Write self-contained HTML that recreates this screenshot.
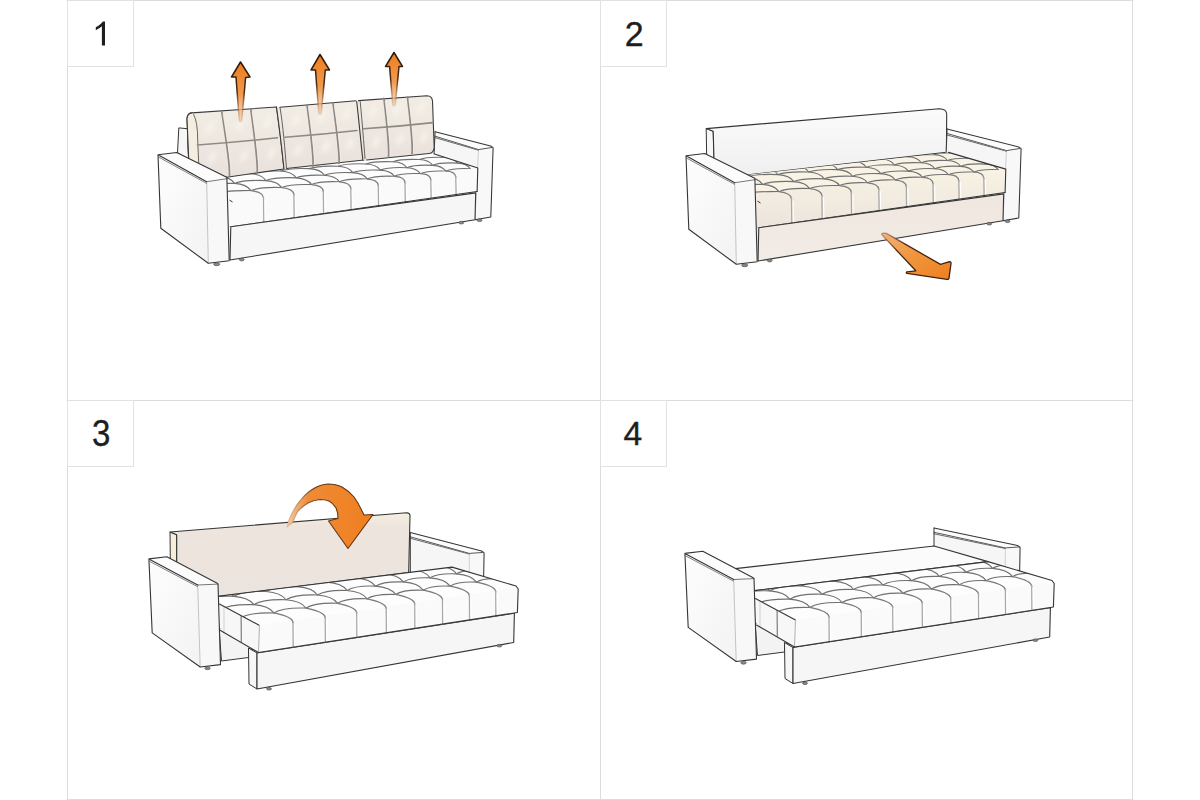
<!DOCTYPE html>
<html><head><meta charset="utf-8"><style>
html,body{margin:0;padding:0;background:#fff;}
.wrap{position:relative;width:1200px;height:800px;overflow:hidden;}
svg{position:absolute;left:0;top:0;}
.num{position:absolute;width:66px;height:66px;font-family:"Liberation Sans",sans-serif;font-size:33px;color:#222;text-align:center;line-height:66px;}
</style></head><body><div class="wrap">
<svg width="1200" height="800" viewBox="0 0 1200 800">
<defs>
<linearGradient id="armside" x1="0" y1="0" x2="1" y2="1"><stop offset="0" stop-color="#fdfdfd"/><stop offset="1" stop-color="#f3f3f3"/></linearGradient>
<linearGradient id="cush" x1="0" y1="0" x2="0" y2="1"><stop offset="0" stop-color="#f2ede4"/><stop offset="0.6" stop-color="#ede6e0"/><stop offset="1" stop-color="#e9e1dc"/></linearGradient>
<filter id="blur2" x="-50%" y="-50%" width="200%" height="200%"><feGaussianBlur stdDeviation="2.2"/></filter>
<linearGradient id="ag" x1="0" y1="0" x2="0" y2="1"><stop offset="0" stop-color="#ee7d1c"/><stop offset="0.55" stop-color="#f19a4e"/><stop offset="1" stop-color="#f4c69a" stop-opacity="0.6"/></linearGradient>
<linearGradient id="ags" x1="0" y1="0" x2="0" y2="1"><stop offset="0" stop-color="#2a160a"/><stop offset="0.5" stop-color="#4a2a12"/><stop offset="1" stop-color="#c08050" stop-opacity="0.2"/></linearGradient>
<linearGradient id="panel" x1="0" y1="0" x2="0" y2="1"><stop offset="0" stop-color="#fbfbfb"/><stop offset="1" stop-color="#efeff0"/></linearGradient>
<linearGradient id="creamf" x1="0" y1="0" x2="0" y2="1"><stop offset="0" stop-color="#f8f3e4"/><stop offset="1" stop-color="#ece4dd"/></linearGradient>
<linearGradient id="creamb" x1="0" y1="0" x2="0" y2="1"><stop offset="0" stop-color="#efe6df"/><stop offset="1" stop-color="#f2ece6"/></linearGradient>
<linearGradient id="upright" x1="0" y1="0" x2="0" y2="1"><stop offset="0" stop-color="#f5f0e2"/><stop offset="0.15" stop-color="#ede5dd"/><stop offset="1" stop-color="#ebe3dd"/></linearGradient>
<linearGradient id="carrow" x1="0" y1="0" x2="1" y2="0"><stop offset="0" stop-color="#f4c9a2"/><stop offset="0.25" stop-color="#f08a35"/><stop offset="1" stop-color="#ef7f1f"/></linearGradient>
<linearGradient id="carrows" x1="0" y1="0" x2="1" y2="0"><stop offset="0" stop-color="#c89870" stop-opacity="0.4"/><stop offset="0.3" stop-color="#6a3a14"/><stop offset="1" stop-color="#5a3010"/></linearGradient>
<linearGradient id="sarrow" x1="0" y1="0" x2="1" y2="1"><stop offset="0" stop-color="#f2b27a"/><stop offset="0.45" stop-color="#f0963f"/><stop offset="1" stop-color="#ef7f1f"/></linearGradient>
<linearGradient id="sarrows" x1="0" y1="0" x2="1" y2="1"><stop offset="0" stop-color="#9a7050" stop-opacity="0.6"/><stop offset="0.3" stop-color="#4a2810"/><stop offset="1" stop-color="#3a200c"/></linearGradient>
</defs>
<rect width="1200" height="800" fill="#ffffff"/>
<line x1="67.50" y1="0.00" x2="67.50" y2="800.00" stroke="#dcdcdc" stroke-width="1" stroke-linecap="round" stroke-linecap="butt"/>
<line x1="600.50" y1="0.00" x2="600.50" y2="800.00" stroke="#dcdcdc" stroke-width="1" stroke-linecap="round" stroke-linecap="butt"/>
<line x1="1132.50" y1="0.00" x2="1132.50" y2="800.00" stroke="#dcdcdc" stroke-width="1" stroke-linecap="round" stroke-linecap="butt"/>
<line x1="67.00" y1="0.50" x2="1133.00" y2="0.50" stroke="#dcdcdc" stroke-width="1" stroke-linecap="round" stroke-linecap="butt"/>
<line x1="67.00" y1="400.50" x2="1133.00" y2="400.50" stroke="#dcdcdc" stroke-width="1" stroke-linecap="round" stroke-linecap="butt"/>
<line x1="67.00" y1="799.50" x2="1133.00" y2="799.50" stroke="#dcdcdc" stroke-width="1" stroke-linecap="round" stroke-linecap="butt"/>
<rect x="67.5" y="0.5" width="66" height="66" fill="none" stroke="#e2e2e2" stroke-width="1"/>
<rect x="600.5" y="0.5" width="66" height="66" fill="none" stroke="#e2e2e2" stroke-width="1"/>
<rect x="67.5" y="400.5" width="66" height="66" fill="none" stroke="#e2e2e2" stroke-width="1"/>
<rect x="600.5" y="400.5" width="66" height="66" fill="none" stroke="#e2e2e2" stroke-width="1"/>
<polygon points="178.80,127.90 187.50,128.70 188.50,160.00 177.50,152.60" fill="#f6f6f6" stroke="#353535" stroke-width="1.0" stroke-linejoin="round" />
<polygon points="435.10,136.20 478.50,149.60 475.00,219.70 433.60,153.00" fill="#f6f6f6" stroke="none" stroke-width="1" stroke-linejoin="round" />
<polygon points="435.10,131.70 492.60,146.50 478.50,149.60 435.10,136.20" fill="#fcfcfc" stroke="none" stroke-width="1" stroke-linejoin="round" />
<polygon points="478.50,149.60 492.60,146.50 490.80,217.00 475.00,219.70" fill="#f8f8f8" stroke="none" stroke-width="1" stroke-linejoin="round" />
<line x1="478.50" y1="149.60" x2="475.00" y2="219.70" stroke="#cfcfcf" stroke-width="1.0" stroke-linecap="round" />
<polyline points="435.10,131.70 490.60,145.90 493.10,148.00 490.80,217.00 475.00,219.70" fill="none" stroke="#353535" stroke-width="1.05" stroke-linejoin="round" stroke-linecap="round" />
<polyline points="435.10,136.20 478.50,149.60 492.90,147.30" fill="none" stroke="#585858" stroke-width="1.0" stroke-linejoin="round" stroke-linecap="round" />
<line x1="435.10" y1="137.70" x2="478.50" y2="150.20" stroke="#6a6a6a" stroke-width="1.0" stroke-linecap="round" />
<line x1="435.10" y1="131.70" x2="434.10" y2="153.00" stroke="#353535" stroke-width="1.0" stroke-linecap="round" />
<ellipse cx="479.5" cy="220.3" rx="2.5" ry="1.3" fill="#8a8a8a" stroke="#444" stroke-width="0.6"/>
<polygon points="162.00,181.30 433.70,153.70 477.80,168.10 229.20,190.30 189.20,190.30" fill="#fdfdfd" stroke="none" stroke-width="1" stroke-linejoin="round" />
<polygon points="229.20,190.30 477.80,168.10 477.10,191.50 229.80,227.00 226.80,227.00 226.20,190.30" fill="#fafafa" stroke="none" stroke-width="1" stroke-linejoin="round" />
<clipPath id="c1"><polygon points="162.00,181.30 433.70,153.70 478.80,168.10 229.20,193.30 169.20,190.30"/></clipPath>
<g clip-path="url(#c1)">
<path d="M212.15,194.56 Q223.01,189.87 250.95,190.67 Q259.57,186.78 281.74,187.58 Q290.08,183.80 311.53,184.60 Q319.33,181.01 339.38,181.81 Q347.18,178.22 367.24,179.02 Q374.81,175.51 394.29,176.31 Q401.61,172.89 420.42,173.69 Q427.51,170.35 445.75,171.15 Q452.61,167.90 470.26,168.70 " fill="none" stroke="#707070" stroke-width="1.15" stroke-linejoin="round" stroke-linecap="round" />
<path d="M195.09,187.03 Q206.13,182.63 234.53,183.43 Q243.30,179.77 265.85,180.57 Q274.33,177.01 296.13,177.81 Q304.06,174.42 324.45,175.22 Q332.38,171.84 352.78,172.64 Q360.48,169.33 380.28,170.13 Q387.72,166.90 406.85,167.70 Q414.06,164.55 432.60,165.35 Q439.58,162.28 457.53,163.08 " fill="none" stroke="#707070" stroke-width="1.15" stroke-linejoin="round" stroke-linecap="round" />
<path d="M178.02,179.50 Q189.25,175.39 218.12,176.19 Q227.03,172.76 249.95,173.56 Q258.57,170.22 280.73,171.02 Q288.79,167.84 309.52,168.64 Q317.59,165.46 338.32,166.26 Q346.14,163.15 366.27,163.95 Q373.84,160.92 393.28,161.72 Q400.61,158.75 419.46,159.55 Q426.55,156.66 444.80,157.46 " fill="none" stroke="#707070" stroke-width="1.15" stroke-linejoin="round" stroke-linecap="round" />
<path d="M178.02,179.50 Q190.82,180.41 195.09,187.03 Q207.88,187.93 212.15,194.56 " fill="none" stroke="#707070" stroke-width="1.15" stroke-linejoin="round" stroke-linecap="round" />
<path d="M218.12,176.19 Q230.43,177.04 234.53,183.43 Q246.85,184.28 250.95,190.67 " fill="none" stroke="#707070" stroke-width="1.15" stroke-linejoin="round" stroke-linecap="round" />
<path d="M249.95,173.56 Q261.87,174.36 265.85,180.57 Q277.77,181.37 281.74,187.58 " fill="none" stroke="#707070" stroke-width="1.15" stroke-linejoin="round" stroke-linecap="round" />
<path d="M280.73,171.02 Q292.28,171.77 296.13,177.81 Q307.68,178.57 311.53,184.60 " fill="none" stroke="#707070" stroke-width="1.15" stroke-linejoin="round" stroke-linecap="round" />
<path d="M309.52,168.64 Q320.72,169.35 324.45,175.22 Q335.65,175.94 339.38,181.81 " fill="none" stroke="#707070" stroke-width="1.15" stroke-linejoin="round" stroke-linecap="round" />
<path d="M338.32,166.26 Q349.16,166.93 352.78,172.64 Q363.63,173.31 367.24,179.02 " fill="none" stroke="#707070" stroke-width="1.15" stroke-linejoin="round" stroke-linecap="round" />
<path d="M366.27,163.95 Q376.78,164.58 380.28,170.13 Q390.79,170.76 394.29,176.31 " fill="none" stroke="#707070" stroke-width="1.15" stroke-linejoin="round" stroke-linecap="round" />
<path d="M393.28,161.72 Q403.46,162.31 406.85,167.70 Q417.03,168.30 420.42,173.69 " fill="none" stroke="#707070" stroke-width="1.15" stroke-linejoin="round" stroke-linecap="round" />
<path d="M419.46,159.55 Q429.32,160.11 432.60,165.35 Q442.46,165.91 445.75,171.15 " fill="none" stroke="#707070" stroke-width="1.15" stroke-linejoin="round" stroke-linecap="round" />
<path d="M444.80,157.46 Q454.35,157.98 457.53,163.08 Q467.08,163.60 470.26,168.70 " fill="none" stroke="#707070" stroke-width="1.15" stroke-linejoin="round" stroke-linecap="round" />
</g>
<path d="M250.95,190.67 Q263.00,191.95 263.50,197.95" fill="none" stroke="#7c7c7c" stroke-width="1.25" stroke-linejoin="round" stroke-linecap="round" />
<path d="M263.50,197.45 L263.80,222.20" fill="none" stroke="#a8a8a8" stroke-width="1.3" stroke-linejoin="round" stroke-linecap="round" />
<line x1="265.10" y1="199.95" x2="265.40" y2="221.20" stroke="#ffffff" stroke-width="1.1" stroke-linecap="round" />
<path d="M281.74,187.58 Q293.40,188.66 293.90,194.66" fill="none" stroke="#7c7c7c" stroke-width="1.25" stroke-linejoin="round" stroke-linecap="round" />
<path d="M293.90,194.16 L294.20,217.84" fill="none" stroke="#a8a8a8" stroke-width="1.3" stroke-linejoin="round" stroke-linecap="round" />
<line x1="295.50" y1="196.66" x2="295.80" y2="216.84" stroke="#ffffff" stroke-width="1.1" stroke-linecap="round" />
<path d="M311.53,184.60 Q322.80,185.49 323.30,191.49" fill="none" stroke="#7c7c7c" stroke-width="1.25" stroke-linejoin="round" stroke-linecap="round" />
<path d="M323.30,190.99 L323.60,213.62" fill="none" stroke="#a8a8a8" stroke-width="1.3" stroke-linejoin="round" stroke-linecap="round" />
<line x1="324.90" y1="193.49" x2="325.20" y2="212.62" stroke="#ffffff" stroke-width="1.1" stroke-linecap="round" />
<path d="M339.38,181.81 Q350.30,182.52 350.80,188.52" fill="none" stroke="#7c7c7c" stroke-width="1.25" stroke-linejoin="round" stroke-linecap="round" />
<path d="M350.80,188.02 L351.10,209.67" fill="none" stroke="#a8a8a8" stroke-width="1.3" stroke-linejoin="round" stroke-linecap="round" />
<line x1="352.40" y1="190.52" x2="352.70" y2="208.67" stroke="#ffffff" stroke-width="1.1" stroke-linecap="round" />
<path d="M367.24,179.02 Q377.80,179.55 378.30,185.55" fill="none" stroke="#7c7c7c" stroke-width="1.25" stroke-linejoin="round" stroke-linecap="round" />
<path d="M378.30,185.05 L378.60,205.73" fill="none" stroke="#a8a8a8" stroke-width="1.3" stroke-linejoin="round" stroke-linecap="round" />
<line x1="379.90" y1="187.55" x2="380.20" y2="204.73" stroke="#ffffff" stroke-width="1.1" stroke-linecap="round" />
<path d="M394.29,176.31 Q404.50,176.66 405.00,182.66" fill="none" stroke="#7c7c7c" stroke-width="1.25" stroke-linejoin="round" stroke-linecap="round" />
<path d="M405.00,182.16 L405.30,201.89" fill="none" stroke="#a8a8a8" stroke-width="1.3" stroke-linejoin="round" stroke-linecap="round" />
<line x1="406.60" y1="184.66" x2="406.90" y2="200.89" stroke="#ffffff" stroke-width="1.1" stroke-linecap="round" />
<path d="M420.42,173.69 Q430.30,173.88 430.80,179.88" fill="none" stroke="#7c7c7c" stroke-width="1.25" stroke-linejoin="round" stroke-linecap="round" />
<path d="M430.80,179.38 L431.10,198.19" fill="none" stroke="#a8a8a8" stroke-width="1.3" stroke-linejoin="round" stroke-linecap="round" />
<line x1="432.40" y1="181.88" x2="432.70" y2="197.19" stroke="#ffffff" stroke-width="1.1" stroke-linecap="round" />
<path d="M445.75,171.15 Q455.30,171.18 455.80,177.18" fill="none" stroke="#7c7c7c" stroke-width="1.25" stroke-linejoin="round" stroke-linecap="round" />
<path d="M455.80,176.68 L456.10,194.60" fill="none" stroke="#a8a8a8" stroke-width="1.3" stroke-linejoin="round" stroke-linecap="round" />
<line x1="457.40" y1="179.18" x2="457.70" y2="193.60" stroke="#ffffff" stroke-width="1.1" stroke-linecap="round" />
<polyline points="229.80,200.30 232.20,201.80" fill="none" stroke="#353535" stroke-width="1.0" stroke-linejoin="round" stroke-linecap="round" />
<polyline points="433.70,153.70 477.80,168.10 477.10,191.50" fill="none" stroke="#353535" stroke-width="1.1" stroke-linejoin="round" stroke-linecap="round" />
<polyline points="229.80,227.00 477.10,191.50" fill="none" stroke="#353535" stroke-width="1.1" stroke-linejoin="round" stroke-linecap="round" />
<polygon points="227.00,227.00 475.70,192.90 475.00,219.70 227.00,260.50" fill="#f6f6f6" stroke="none" stroke-width="1" stroke-linejoin="round" />
<polygon points="230.80,226.70 475.70,192.90 475.00,219.70 230.00,260.00" fill="none" stroke="#353535" stroke-width="1.1" stroke-linejoin="round" />
<ellipse cx="241.7" cy="259.6" rx="2.5" ry="1.3" fill="#8a8a8a" stroke="#444" stroke-width="0.6"/>
<ellipse cx="461.3" cy="222.7" rx="2.5" ry="1.3" fill="#8a8a8a" stroke="#444" stroke-width="0.6"/>
<path d="M189.5,177 L187,119 Q187.2,113.3 192,112.9 L276.5,107 Q281,138 284,169 L226.7,177.3 Z" fill="url(#cush)" stroke="#3a3a3a" stroke-width="1.1" stroke-linejoin="round" stroke-linecap="round" />
<path d="M187,119 Q187.2,113.3 192,112.9 Q197,116 197.7,132 L199.3,177 L189.5,177 Z" fill="#f3eee0" stroke="none" stroke-width="1" stroke-linejoin="round" stroke-linecap="round" />
<path d="M193.7,114.6 Q197.7,122 197.7,140 L199.2,175" fill="none" stroke="#6a6660" stroke-width="1.0" stroke-linejoin="round" stroke-linecap="round" />
<path d="M189.5,177 L187,119 Q187.2,113.3 192,112.9" fill="none" stroke="#3a3a3a" stroke-width="1.1" stroke-linejoin="round" stroke-linecap="round" />
<path d="M276.5,107.2 L356,100.7 Q361,130 364,160 L284,169.2 C282,150 279,125 276.5,107.2 Z" fill="url(#cush)" stroke="none" stroke-width="1" stroke-linejoin="round" stroke-linecap="round" />
<path d="M280,107.3 L356,100.7 M364,160 L286.5,168.5" fill="none" stroke="#3a3a3a" stroke-width="1.1" stroke-linejoin="round" stroke-linecap="round" />
<path d="M356.7,100.8 L427,95.8 Q432,96 432.5,101 L434.2,147 Q434,153 429,153.5 L362.9,160.3 C361,145 359,120 356.7,100.8 Z" fill="url(#cush)" stroke="none" stroke-width="1" stroke-linejoin="round" stroke-linecap="round" />
<path d="M358.5,100.6 L427,95.8 Q432,96 432.5,101 L434.2,147 Q434,153 429,153.5 L366.5,160" fill="none" stroke="#3a3a3a" stroke-width="1.1" stroke-linejoin="round" stroke-linecap="round" />
<g filter="url(#blur2)" opacity="0.55">
<ellipse cx="210" cy="128" rx="3.2" ry="7" fill="#fbf8ee" transform="rotate(28 210 128)"/>
<ellipse cx="240" cy="125" rx="3.2" ry="7" fill="#fbf8ee" transform="rotate(28 240 125)"/>
<ellipse cx="268" cy="122" rx="3.2" ry="7" fill="#fbf8ee" transform="rotate(28 268 122)"/>
<ellipse cx="212" cy="158" rx="3.2" ry="7" fill="#fbf8ee" transform="rotate(28 212 158)"/>
<ellipse cx="244" cy="156" rx="3.2" ry="7" fill="#fbf8ee" transform="rotate(28 244 156)"/>
<ellipse cx="272" cy="153" rx="3.2" ry="7" fill="#fbf8ee" transform="rotate(28 272 153)"/>
<ellipse cx="296" cy="120" rx="3.2" ry="7" fill="#fbf8ee" transform="rotate(28 296 120)"/>
<ellipse cx="322" cy="117" rx="3.2" ry="7" fill="#fbf8ee" transform="rotate(28 322 117)"/>
<ellipse cx="347" cy="114" rx="3.2" ry="7" fill="#fbf8ee" transform="rotate(28 347 114)"/>
<ellipse cx="298" cy="150" rx="3.2" ry="7" fill="#fbf8ee" transform="rotate(28 298 150)"/>
<ellipse cx="326" cy="147" rx="3.2" ry="7" fill="#fbf8ee" transform="rotate(28 326 147)"/>
<ellipse cx="350" cy="144" rx="3.2" ry="7" fill="#fbf8ee" transform="rotate(28 350 144)"/>
<ellipse cx="373" cy="112" rx="3.2" ry="7" fill="#fbf8ee" transform="rotate(28 373 112)"/>
<ellipse cx="397" cy="110" rx="3.2" ry="7" fill="#fbf8ee" transform="rotate(28 397 110)"/>
<ellipse cx="421" cy="108" rx="3.2" ry="7" fill="#fbf8ee" transform="rotate(28 421 108)"/>
<ellipse cx="376" cy="142" rx="3.2" ry="7" fill="#fbf8ee" transform="rotate(28 376 142)"/>
<ellipse cx="400" cy="139" rx="3.2" ry="7" fill="#fbf8ee" transform="rotate(28 400 139)"/>
<ellipse cx="424" cy="137" rx="3.2" ry="7" fill="#fbf8ee" transform="rotate(28 424 137)"/>
</g>
<path d="M221.70,111.40 C226.21,140.25 230.33,165.88 229.50,175.50" fill="none" stroke="#8d8984" stroke-width="1.7" stroke-linejoin="round" stroke-linecap="round" />
<path d="M223.10,114.40 C227.61,140.25 231.73,165.88 230.90,173.50" fill="none" stroke="#f7f3ec" stroke-width="0.7" stroke-linejoin="round" stroke-linecap="round" opacity="0.8"/>
<path d="M250.80,109.40 C254.68,137.80 258.24,163.03 257.20,172.50" fill="none" stroke="#8d8984" stroke-width="1.7" stroke-linejoin="round" stroke-linecap="round" />
<path d="M252.20,112.40 C256.08,137.80 259.64,163.03 258.60,170.50" fill="none" stroke="#f7f3ec" stroke-width="0.7" stroke-linejoin="round" stroke-linecap="round" opacity="0.8"/>
<path d="M307.00,104.80 C310.70,132.79 314.10,157.67 313.00,167.00" fill="none" stroke="#8d8984" stroke-width="1.7" stroke-linejoin="round" stroke-linecap="round" />
<path d="M308.40,107.80 C312.10,132.79 315.50,157.67 314.40,165.00" fill="none" stroke="#f7f3ec" stroke-width="0.7" stroke-linejoin="round" stroke-linecap="round" opacity="0.8"/>
<path d="M333.00,103.20 C336.70,130.34 340.10,154.45 339.00,163.50" fill="none" stroke="#8d8984" stroke-width="1.7" stroke-linejoin="round" stroke-linecap="round" />
<path d="M334.40,106.20 C338.10,130.34 341.50,154.45 340.40,161.50" fill="none" stroke="#f7f3ec" stroke-width="0.7" stroke-linejoin="round" stroke-linecap="round" opacity="0.8"/>
<path d="M383.90,98.30 C386.97,124.72 389.81,148.19 388.50,157.00" fill="none" stroke="#8d8984" stroke-width="1.7" stroke-linejoin="round" stroke-linecap="round" />
<path d="M385.30,101.30 C388.37,124.72 391.21,148.19 389.90,155.00" fill="none" stroke="#f7f3ec" stroke-width="0.7" stroke-linejoin="round" stroke-linecap="round" opacity="0.8"/>
<path d="M407.50,97.00 C410.52,122.42 413.32,145.03 412.00,153.50" fill="none" stroke="#8d8984" stroke-width="1.7" stroke-linejoin="round" stroke-linecap="round" />
<path d="M408.90,100.00 C411.92,122.42 414.72,145.03 413.40,151.50" fill="none" stroke="#f7f3ec" stroke-width="0.7" stroke-linejoin="round" stroke-linecap="round" opacity="0.8"/>
<path d="M197.50,145.00 Q237.50,142.20 277.50,137.80" fill="none" stroke="#8d8984" stroke-width="1.6" stroke-linejoin="round" stroke-linecap="round" />
<path d="M285.00,137.20 Q321.00,134.65 357.00,130.50" fill="none" stroke="#8d8984" stroke-width="1.6" stroke-linejoin="round" stroke-linecap="round" />
<path d="M363.80,128.80 Q398.35,126.50 432.90,122.60" fill="none" stroke="#8d8984" stroke-width="1.6" stroke-linejoin="round" stroke-linecap="round" />
<path d="M276.5,107 C279,125 282,150 284,169" fill="none" stroke="#3a3a3a" stroke-width="1.1" stroke-linejoin="round" stroke-linecap="round" />
<path d="M280,107.5 C283,125 285,150 286.5,168.5" fill="none" stroke="#55524e" stroke-width="0.9" stroke-linejoin="round" stroke-linecap="round" />
<path d="M356.7,101.6 C359,120 361,145 362.9,160.2" fill="none" stroke="#3a3a3a" stroke-width="1.1" stroke-linejoin="round" stroke-linecap="round" />
<path d="M360.2,101.6 C362,120 364,145 365,158.5" fill="none" stroke="#55524e" stroke-width="0.9" stroke-linejoin="round" stroke-linecap="round" />
<polygon points="158.00,154.70 206.70,181.70 208.30,263.30 160.80,228.30" fill="url(#armside)" stroke="none" stroke-width="1" stroke-linejoin="round" />
<polygon points="206.70,181.70 226.90,178.70 229.20,260.80 208.30,263.30" fill="#f8f8f8" stroke="none" stroke-width="1" stroke-linejoin="round" />
<polygon points="158.00,154.70 176.70,152.50 226.70,177.30 226.90,178.70 206.70,181.70" fill="#fcfcfc" stroke="none" stroke-width="1" stroke-linejoin="round" />
<line x1="206.70" y1="181.70" x2="208.30" y2="263.30" stroke="#c4c4c4" stroke-width="1.0" stroke-linecap="round" />
<polyline points="206.70,181.70 226.90,178.70" fill="none" stroke="#6a6a6a" stroke-width="0.9" stroke-linejoin="round" stroke-linecap="round" />
<polyline points="206.70,181.70 158.00,154.70 176.70,152.50 226.70,177.30 226.90,178.70 229.20,260.80 208.30,263.30 160.80,228.30 158.00,154.70" fill="none" stroke="#353535" stroke-width="1.1" stroke-linejoin="round" stroke-linecap="round" />
<line x1="158.40" y1="157.00" x2="206.50" y2="183.30" stroke="#6e6e6e" stroke-width="0.85" stroke-linecap="round" />
<ellipse cx="216.7" cy="264.2" rx="3.0" ry="1.5" fill="#8a8a8a" stroke="#444" stroke-width="0.6"/>
<path d="M240.50,62.00 L250.00,77.00 L245.60,77.50 L241.70,121.50 L239.30,121.50 L236.00,77.00 L231.50,77.00 Z" fill="url(#ag)" stroke="url(#ags)" stroke-width="1.5" stroke-linejoin="round" stroke-linecap="round" />
<path d="M320.00,54.50 L329.50,70.00 L325.30,70.00 L321.20,114.00 L318.80,114.00 L315.50,70.00 L311.00,70.00 Z" fill="url(#ag)" stroke="url(#ags)" stroke-width="1.5" stroke-linejoin="round" stroke-linecap="round" />
<path d="M394.00,52.50 L402.50,66.50 L399.00,66.50 L395.20,105.50 L392.80,105.50 L389.60,66.50 L385.50,66.50 Z" fill="url(#ag)" stroke="url(#ags)" stroke-width="1.5" stroke-linejoin="round" stroke-linecap="round" />
<polygon points="706.20,128.60 713.20,131.20 714.50,179.00 707.00,176.00" fill="#f7f7f7" stroke="#353535" stroke-width="1.0" stroke-linejoin="round" />
<path d="M706.2,128.6 L939.3,108.7 Q946.5,109 946.7,114 L946.4,152.4 L714.5,178.6 L713.2,131.2 Z" fill="url(#panel)" stroke="#353535" stroke-width="1.1" stroke-linejoin="round" stroke-linecap="round" />
<polygon points="947.10,133.50 1006.50,150.60 1003.00,220.70 945.60,154.00" fill="#f6f6f6" stroke="none" stroke-width="1" stroke-linejoin="round" />
<polygon points="947.10,129.00 1020.60,147.50 1006.50,150.60 947.10,133.50" fill="#fcfcfc" stroke="none" stroke-width="1" stroke-linejoin="round" />
<polygon points="1006.50,150.60 1020.60,147.50 1018.80,218.00 1003.00,220.70" fill="#f8f8f8" stroke="none" stroke-width="1" stroke-linejoin="round" />
<line x1="1006.50" y1="150.60" x2="1003.00" y2="220.70" stroke="#cfcfcf" stroke-width="1.0" stroke-linecap="round" />
<polyline points="947.10,129.00 1018.60,146.90 1021.10,149.00 1018.80,218.00 1003.00,220.70" fill="none" stroke="#353535" stroke-width="1.05" stroke-linejoin="round" stroke-linecap="round" />
<polyline points="947.10,133.50 1006.50,150.60 1020.90,148.30" fill="none" stroke="#585858" stroke-width="1.0" stroke-linejoin="round" stroke-linecap="round" />
<line x1="947.10" y1="135.00" x2="1006.50" y2="151.20" stroke="#6a6a6a" stroke-width="1.0" stroke-linecap="round" />
<line x1="947.10" y1="129.00" x2="946.10" y2="154.00" stroke="#353535" stroke-width="1.0" stroke-linecap="round" />
<ellipse cx="1007.5" cy="221.3" rx="2.5" ry="1.3" fill="#8a8a8a" stroke="#444" stroke-width="0.6"/>
<polygon points="690.00,181.30 948.50,152.40 1005.80,169.10 757.20,191.30 717.20,191.30" fill="#f8f3e4" stroke="none" stroke-width="1" stroke-linejoin="round" />
<polygon points="757.20,191.30 1005.80,169.10 1005.10,192.50 757.80,228.00 754.80,228.00 754.20,191.30" fill="url(#creamf)" stroke="none" stroke-width="1" stroke-linejoin="round" />
<clipPath id="c2"><polygon points="690.00,181.30 948.50,152.40 1006.80,169.10 757.20,194.30 697.20,191.30"/></clipPath>
<g clip-path="url(#c2)">
<path d="M740.15,195.56 Q751.01,190.87 778.95,191.67 Q787.57,187.78 809.74,188.58 Q818.08,184.80 839.53,185.60 Q847.33,182.01 867.38,182.81 Q875.18,179.22 895.24,180.02 Q902.81,176.51 922.29,177.31 Q929.61,173.89 948.42,174.69 Q955.51,171.35 973.75,172.15 Q980.61,168.90 998.26,169.70 " fill="none" stroke="#707070" stroke-width="1.15" stroke-linejoin="round" stroke-linecap="round" />
<path d="M723.09,188.03 Q734.13,183.63 762.53,184.43 Q771.30,180.77 793.85,181.57 Q802.33,178.01 824.13,178.81 Q832.06,175.42 852.45,176.22 Q860.38,172.84 880.78,173.64 Q888.48,170.33 908.28,171.13 Q915.72,167.90 934.85,168.70 Q942.06,165.55 960.60,166.35 Q967.58,163.28 985.53,164.08 " fill="none" stroke="#707070" stroke-width="1.15" stroke-linejoin="round" stroke-linecap="round" />
<path d="M706.02,180.50 Q717.25,176.39 746.12,177.19 Q755.03,173.76 777.95,174.56 Q786.57,171.22 808.73,172.02 Q816.79,168.84 837.52,169.64 Q845.59,166.46 866.32,167.26 Q874.14,164.15 894.27,164.95 Q901.84,161.92 921.28,162.72 Q928.61,159.75 947.46,160.55 Q954.55,157.66 972.80,158.46 " fill="none" stroke="#707070" stroke-width="1.15" stroke-linejoin="round" stroke-linecap="round" />
<path d="M688.96,172.97 Q700.37,169.15 729.71,169.95 Q738.76,166.74 762.05,167.54 Q770.81,164.42 793.34,165.22 Q801.53,162.25 822.60,163.05 Q830.79,160.08 851.86,160.88 Q859.81,157.97 880.26,158.77 Q887.95,155.93 907.72,156.73 Q915.16,153.95 934.32,154.75 Q941.52,152.04 960.06,152.84 " fill="none" stroke="#707070" stroke-width="1.15" stroke-linejoin="round" stroke-linecap="round" />
<path d="M688.96,172.97 Q701.76,173.88 706.02,180.50 Q718.82,181.41 723.09,188.03 Q735.88,188.93 740.15,195.56 " fill="none" stroke="#707070" stroke-width="1.15" stroke-linejoin="round" stroke-linecap="round" />
<path d="M729.71,169.95 Q742.02,170.79 746.12,177.19 Q758.43,178.04 762.53,184.43 Q774.85,185.28 778.95,191.67 " fill="none" stroke="#707070" stroke-width="1.15" stroke-linejoin="round" stroke-linecap="round" />
<path d="M762.05,167.54 Q773.98,168.35 777.95,174.56 Q789.87,175.36 793.85,181.57 Q805.77,182.37 809.74,188.58 " fill="none" stroke="#707070" stroke-width="1.15" stroke-linejoin="round" stroke-linecap="round" />
<path d="M793.34,165.22 Q804.88,165.98 808.73,172.02 Q820.28,172.77 824.13,178.81 Q835.68,179.57 839.53,185.60 " fill="none" stroke="#707070" stroke-width="1.15" stroke-linejoin="round" stroke-linecap="round" />
<path d="M822.60,163.05 Q833.79,163.77 837.52,169.64 Q848.72,170.35 852.45,176.22 Q863.65,176.94 867.38,182.81 " fill="none" stroke="#707070" stroke-width="1.15" stroke-linejoin="round" stroke-linecap="round" />
<path d="M851.86,160.88 Q862.70,161.55 866.32,167.26 Q877.16,167.93 880.78,173.64 Q891.63,174.31 895.24,180.02 " fill="none" stroke="#707070" stroke-width="1.15" stroke-linejoin="round" stroke-linecap="round" />
<path d="M880.26,158.77 Q890.77,159.40 894.27,164.95 Q904.78,165.58 908.28,171.13 Q918.79,171.76 922.29,177.31 " fill="none" stroke="#707070" stroke-width="1.15" stroke-linejoin="round" stroke-linecap="round" />
<path d="M907.72,156.73 Q917.89,157.33 921.28,162.72 Q931.46,163.31 934.85,168.70 Q945.03,169.30 948.42,174.69 " fill="none" stroke="#707070" stroke-width="1.15" stroke-linejoin="round" stroke-linecap="round" />
<path d="M934.32,154.75 Q944.17,155.31 947.46,160.55 Q957.32,161.11 960.60,166.35 Q970.46,166.91 973.75,172.15 " fill="none" stroke="#707070" stroke-width="1.15" stroke-linejoin="round" stroke-linecap="round" />
<path d="M960.06,152.84 Q969.61,153.37 972.80,158.46 Q982.35,158.98 985.53,164.08 Q995.08,164.60 998.26,169.70 " fill="none" stroke="#707070" stroke-width="1.15" stroke-linejoin="round" stroke-linecap="round" />
</g>
<path d="M778.95,191.67 Q791.00,192.95 791.50,198.95" fill="none" stroke="#7c7c7c" stroke-width="1.25" stroke-linejoin="round" stroke-linecap="round" />
<path d="M791.50,198.45 L791.80,223.20" fill="none" stroke="#a8a8a8" stroke-width="1.3" stroke-linejoin="round" stroke-linecap="round" />
<line x1="793.10" y1="200.95" x2="793.40" y2="222.20" stroke="#ffffff" stroke-width="1.1" stroke-linecap="round" />
<path d="M809.74,188.58 Q821.40,189.66 821.90,195.66" fill="none" stroke="#7c7c7c" stroke-width="1.25" stroke-linejoin="round" stroke-linecap="round" />
<path d="M821.90,195.16 L822.20,218.84" fill="none" stroke="#a8a8a8" stroke-width="1.3" stroke-linejoin="round" stroke-linecap="round" />
<line x1="823.50" y1="197.66" x2="823.80" y2="217.84" stroke="#ffffff" stroke-width="1.1" stroke-linecap="round" />
<path d="M839.53,185.60 Q850.80,186.49 851.30,192.49" fill="none" stroke="#7c7c7c" stroke-width="1.25" stroke-linejoin="round" stroke-linecap="round" />
<path d="M851.30,191.99 L851.60,214.62" fill="none" stroke="#a8a8a8" stroke-width="1.3" stroke-linejoin="round" stroke-linecap="round" />
<line x1="852.90" y1="194.49" x2="853.20" y2="213.62" stroke="#ffffff" stroke-width="1.1" stroke-linecap="round" />
<path d="M867.38,182.81 Q878.30,183.52 878.80,189.52" fill="none" stroke="#7c7c7c" stroke-width="1.25" stroke-linejoin="round" stroke-linecap="round" />
<path d="M878.80,189.02 L879.10,210.67" fill="none" stroke="#a8a8a8" stroke-width="1.3" stroke-linejoin="round" stroke-linecap="round" />
<line x1="880.40" y1="191.52" x2="880.70" y2="209.67" stroke="#ffffff" stroke-width="1.1" stroke-linecap="round" />
<path d="M895.24,180.02 Q905.80,180.55 906.30,186.55" fill="none" stroke="#7c7c7c" stroke-width="1.25" stroke-linejoin="round" stroke-linecap="round" />
<path d="M906.30,186.05 L906.60,206.73" fill="none" stroke="#a8a8a8" stroke-width="1.3" stroke-linejoin="round" stroke-linecap="round" />
<line x1="907.90" y1="188.55" x2="908.20" y2="205.73" stroke="#ffffff" stroke-width="1.1" stroke-linecap="round" />
<path d="M922.29,177.31 Q932.50,177.66 933.00,183.66" fill="none" stroke="#7c7c7c" stroke-width="1.25" stroke-linejoin="round" stroke-linecap="round" />
<path d="M933.00,183.16 L933.30,202.89" fill="none" stroke="#a8a8a8" stroke-width="1.3" stroke-linejoin="round" stroke-linecap="round" />
<line x1="934.60" y1="185.66" x2="934.90" y2="201.89" stroke="#ffffff" stroke-width="1.1" stroke-linecap="round" />
<path d="M948.42,174.69 Q958.30,174.88 958.80,180.88" fill="none" stroke="#7c7c7c" stroke-width="1.25" stroke-linejoin="round" stroke-linecap="round" />
<path d="M958.80,180.38 L959.10,199.19" fill="none" stroke="#a8a8a8" stroke-width="1.3" stroke-linejoin="round" stroke-linecap="round" />
<line x1="960.40" y1="182.88" x2="960.70" y2="198.19" stroke="#ffffff" stroke-width="1.1" stroke-linecap="round" />
<path d="M973.75,172.15 Q983.30,172.18 983.80,178.18" fill="none" stroke="#7c7c7c" stroke-width="1.25" stroke-linejoin="round" stroke-linecap="round" />
<path d="M983.80,177.68 L984.10,195.60" fill="none" stroke="#a8a8a8" stroke-width="1.3" stroke-linejoin="round" stroke-linecap="round" />
<line x1="985.40" y1="180.18" x2="985.70" y2="194.60" stroke="#ffffff" stroke-width="1.1" stroke-linecap="round" />
<polyline points="757.80,201.30 760.20,202.80" fill="none" stroke="#353535" stroke-width="1.0" stroke-linejoin="round" stroke-linecap="round" />
<polyline points="948.50,152.40 1005.80,169.10 1005.10,192.50" fill="none" stroke="#353535" stroke-width="1.1" stroke-linejoin="round" stroke-linecap="round" />
<polyline points="757.80,228.00 1005.10,192.50" fill="none" stroke="#353535" stroke-width="1.1" stroke-linejoin="round" stroke-linecap="round" />
<polygon points="755.00,228.00 1003.70,193.90 1003.00,220.70 755.00,261.50" fill="url(#creamb)" stroke="none" stroke-width="1" stroke-linejoin="round" />
<polygon points="758.80,227.70 1003.70,193.90 1003.00,220.70 758.00,261.00" fill="none" stroke="#353535" stroke-width="1.1" stroke-linejoin="round" />
<ellipse cx="769.7" cy="260.6" rx="2.5" ry="1.3" fill="#8a8a8a" stroke="#444" stroke-width="0.6"/>
<ellipse cx="989.3" cy="223.7" rx="2.5" ry="1.3" fill="#8a8a8a" stroke="#444" stroke-width="0.6"/>
<polygon points="686.00,155.70 734.70,182.70 736.30,264.30 688.80,229.30" fill="url(#armside)" stroke="none" stroke-width="1" stroke-linejoin="round" />
<polygon points="734.70,182.70 754.90,179.70 757.20,261.80 736.30,264.30" fill="#f8f8f8" stroke="none" stroke-width="1" stroke-linejoin="round" />
<polygon points="686.00,155.70 704.70,153.50 754.70,178.30 754.90,179.70 734.70,182.70" fill="#fcfcfc" stroke="none" stroke-width="1" stroke-linejoin="round" />
<line x1="734.70" y1="182.70" x2="736.30" y2="264.30" stroke="#c4c4c4" stroke-width="1.0" stroke-linecap="round" />
<polyline points="734.70,182.70 754.90,179.70" fill="none" stroke="#6a6a6a" stroke-width="0.9" stroke-linejoin="round" stroke-linecap="round" />
<polyline points="734.70,182.70 686.00,155.70 704.70,153.50 754.70,178.30 754.90,179.70 757.20,261.80 736.30,264.30 688.80,229.30 686.00,155.70" fill="none" stroke="#353535" stroke-width="1.1" stroke-linejoin="round" stroke-linecap="round" />
<line x1="686.40" y1="158.00" x2="734.50" y2="184.30" stroke="#6e6e6e" stroke-width="0.85" stroke-linecap="round" />
<ellipse cx="744.7" cy="265.2" rx="3.0" ry="1.5" fill="#8a8a8a" stroke="#444" stroke-width="0.6"/>
<path d="M881.8,234.6 Q881.5,233.2 883.5,233.1 L886.5,233.4 L940.5,264.4 L949.5,261.6 Q951.3,261.6 951,263.5 L949,278.2 Q948.6,279.6 947,279.3 L907,273.4 Q905.5,272.6 907,271.9 L915.8,270.8 Z" fill="url(#sarrow)" stroke="url(#sarrows)" stroke-width="1.3" stroke-linejoin="round" stroke-linecap="round" />
<polygon points="410.30,536.80 469.30,553.40 469.30,592.00 409.80,575.00" fill="#f6f6f6" stroke="none" stroke-width="1" stroke-linejoin="round" />
<polygon points="410.30,532.50 483.60,551.60 469.30,553.40 410.30,536.80" fill="#fcfcfc" stroke="none" stroke-width="1" stroke-linejoin="round" />
<polygon points="469.30,553.40 483.60,551.60 483.40,590.00 469.30,592.00" fill="#f8f8f8" stroke="none" stroke-width="1" stroke-linejoin="round" />
<line x1="469.30" y1="553.40" x2="469.30" y2="592.00" stroke="#cfcfcf" stroke-width="1.0" stroke-linecap="round" />
<polyline points="410.30,532.50 481.60,551.00 484.10,553.10 483.40,590.00 469.30,592.00" fill="none" stroke="#353535" stroke-width="1.05" stroke-linejoin="round" stroke-linecap="round" />
<polyline points="410.30,536.80 469.30,553.40 483.90,552.40" fill="none" stroke="#585858" stroke-width="1.0" stroke-linejoin="round" stroke-linecap="round" />
<line x1="410.30" y1="538.30" x2="469.30" y2="554.00" stroke="#6a6a6a" stroke-width="1.0" stroke-linecap="round" />
<line x1="410.30" y1="532.50" x2="410.30" y2="575.00" stroke="#353535" stroke-width="1.0" stroke-linecap="round" />
<polygon points="170.00,532.00 176.70,534.70 176.70,600.00 170.70,595.00" fill="#f4eedb" stroke="#353535" stroke-width="1.0" stroke-linejoin="round" />
<path d="M170,532 L406.7,512.7 Q410,513 410,515.5 L408.7,572.5 L219,596.5 L176.7,600 L176.7,534.7 Z" fill="url(#upright)" stroke="#353535" stroke-width="1.1" stroke-linejoin="round" stroke-linecap="round" />
<polygon points="219.00,628.00 257.00,650.00 248.50,649.00 248.50,657.50 221.50,661.00" fill="#f3f3f3" stroke="#353535" stroke-width="1.0" stroke-linejoin="round" />
<polygon points="248.50,648.00 257.00,653.00 257.00,689.00 249.00,684.00" fill="#f7f7f7" stroke="#353535" stroke-width="1.0" stroke-linejoin="round" />
<polygon points="257.00,653.00 514.40,613.20 513.70,642.50 257.00,689.00" fill="#f6f6f6" stroke="#353535" stroke-width="1.1" stroke-linejoin="round" />
<ellipse cx="269" cy="688.8" rx="2.5" ry="1.3" fill="#8a8a8a" stroke="#444" stroke-width="0.6"/>
<ellipse cx="499.4" cy="645.7" rx="2.5" ry="1.3" fill="#8a8a8a" stroke="#444" stroke-width="0.6"/>
<polygon points="200.00,598.50 452.00,567.10 518.20,587.00 259.50,625.40 219.40,604.00" fill="#fdfdfd" stroke="none" stroke-width="1" stroke-linejoin="round" />
<polygon points="259.50,625.40 518.20,587.00 517.40,612.50 258.50,652.50" fill="#fafafa" stroke="none" stroke-width="1" stroke-linejoin="round" />
<polygon points="219.40,604.00 259.50,625.40 258.50,652.50 220.50,630.50" fill="#f7f7f7" stroke="none" stroke-width="1" stroke-linejoin="round" />
<clipPath id="m3"><polygon points="150.00,604.80 452.00,567.10 518.20,587.00 300.00,640.00 259.50,625.40 219.40,604.00"/></clipPath>
<g clip-path="url(#m3)">
<path d="M240.30,618.04 Q249.68,612.15 273.80,612.95 Q282.82,607.25 306.00,608.05 Q314.82,602.47 337.50,603.27 Q345.76,597.98 367.00,598.78 Q374.98,593.65 395.50,594.45 Q403.28,589.42 423.30,590.22 Q430.83,585.34 450.20,586.14 Q457.56,581.34 476.50,582.14 Q482.74,577.95 498.80,578.75 " fill="none" stroke="#707070" stroke-width="1.15" stroke-linejoin="round" stroke-linecap="round" />
<path d="M220.30,609.74 Q229.68,603.85 253.80,604.65 Q262.82,598.95 286.00,599.75 Q294.82,594.17 317.50,594.97 Q325.76,589.68 347.00,590.48 Q354.98,585.35 375.50,586.15 Q383.28,581.12 403.30,581.92 Q410.83,577.04 430.20,577.84 Q437.56,573.04 456.50,573.84 Q462.74,569.65 478.80,570.45 " fill="none" stroke="#707070" stroke-width="1.15" stroke-linejoin="round" stroke-linecap="round" />
<path d="M200.30,601.44 Q209.68,595.55 233.80,596.35 Q242.82,590.65 266.00,591.45 Q274.82,585.87 297.50,586.67 Q305.76,581.38 327.00,582.18 Q334.98,577.05 355.50,577.85 Q363.28,572.82 383.30,573.62 Q390.83,568.74 410.20,569.54 Q417.56,564.74 436.50,565.54 Q442.74,561.35 458.80,562.15 " fill="none" stroke="#707070" stroke-width="1.15" stroke-linejoin="round" stroke-linecap="round" />
<path d="M180.30,593.14 Q189.68,587.25 213.80,588.05 Q222.82,582.35 246.00,583.15 Q254.82,577.57 277.50,578.37 Q285.76,573.08 307.00,573.88 Q314.98,568.75 335.50,569.55 Q343.28,564.52 363.30,565.32 Q370.83,560.44 390.20,561.24 Q397.56,556.44 416.50,557.24 Q422.74,553.05 438.80,553.85 " fill="none" stroke="#707070" stroke-width="1.15" stroke-linejoin="round" stroke-linecap="round" />
<path d="M180.30,593.14 Q195.30,594.20 200.30,601.44 Q215.30,602.50 220.30,609.74 Q235.30,610.80 240.30,618.04 " fill="none" stroke="#707070" stroke-width="1.15" stroke-linejoin="round" stroke-linecap="round" />
<path d="M213.80,588.05 Q228.80,589.11 233.80,596.35 Q248.80,597.41 253.80,604.65 Q268.80,605.71 273.80,612.95 " fill="none" stroke="#707070" stroke-width="1.15" stroke-linejoin="round" stroke-linecap="round" />
<path d="M246.00,583.15 Q261.00,584.21 266.00,591.45 Q281.00,592.51 286.00,599.75 Q301.00,600.81 306.00,608.05 " fill="none" stroke="#707070" stroke-width="1.15" stroke-linejoin="round" stroke-linecap="round" />
<path d="M277.50,578.37 Q292.50,579.43 297.50,586.67 Q312.50,587.73 317.50,594.97 Q332.50,596.03 337.50,603.27 " fill="none" stroke="#707070" stroke-width="1.15" stroke-linejoin="round" stroke-linecap="round" />
<path d="M307.00,573.88 Q322.00,574.94 327.00,582.18 Q342.00,583.24 347.00,590.48 Q362.00,591.54 367.00,598.78 " fill="none" stroke="#707070" stroke-width="1.15" stroke-linejoin="round" stroke-linecap="round" />
<path d="M335.50,569.55 Q350.50,570.61 355.50,577.85 Q370.50,578.91 375.50,586.15 Q390.50,587.21 395.50,594.45 " fill="none" stroke="#707070" stroke-width="1.15" stroke-linejoin="round" stroke-linecap="round" />
<path d="M363.30,565.32 Q378.30,566.38 383.30,573.62 Q398.30,574.68 403.30,581.92 Q418.30,582.98 423.30,590.22 " fill="none" stroke="#707070" stroke-width="1.15" stroke-linejoin="round" stroke-linecap="round" />
<path d="M390.20,561.24 Q405.20,562.30 410.20,569.54 Q425.20,570.60 430.20,577.84 Q445.20,578.90 450.20,586.14 " fill="none" stroke="#707070" stroke-width="1.15" stroke-linejoin="round" stroke-linecap="round" />
<path d="M416.50,557.24 Q431.50,558.30 436.50,565.54 Q451.50,566.60 456.50,573.84 Q471.50,574.90 476.50,582.14 " fill="none" stroke="#707070" stroke-width="1.15" stroke-linejoin="round" stroke-linecap="round" />
<path d="M438.80,553.85 Q453.80,554.91 458.80,562.15 Q473.80,563.21 478.80,570.45 Q493.80,571.51 498.80,578.75 " fill="none" stroke="#707070" stroke-width="1.15" stroke-linejoin="round" stroke-linecap="round" />
</g>
<path d="M273.80,612.95 Q292.50,616.55 293.00,622.55" fill="none" stroke="#7c7c7c" stroke-width="1.25" stroke-linejoin="round" stroke-linecap="round" />
<path d="M293.00,622.05 L293.20,647.11" fill="none" stroke="#a8a8a8" stroke-width="1.3" stroke-linejoin="round" stroke-linecap="round" />
<line x1="294.60" y1="624.55" x2="294.80" y2="646.11" stroke="#ffffff" stroke-width="1.1" stroke-linecap="round" />
<path d="M306.00,608.05 Q324.70,611.65 325.20,617.65" fill="none" stroke="#7c7c7c" stroke-width="1.25" stroke-linejoin="round" stroke-linecap="round" />
<path d="M325.20,617.15 L325.40,642.15" fill="none" stroke="#a8a8a8" stroke-width="1.3" stroke-linejoin="round" stroke-linecap="round" />
<line x1="326.80" y1="619.65" x2="327.00" y2="641.15" stroke="#ffffff" stroke-width="1.1" stroke-linecap="round" />
<path d="M337.50,603.27 Q356.20,606.87 356.70,612.87" fill="none" stroke="#7c7c7c" stroke-width="1.25" stroke-linejoin="round" stroke-linecap="round" />
<path d="M356.70,612.37 L356.90,637.30" fill="none" stroke="#a8a8a8" stroke-width="1.3" stroke-linejoin="round" stroke-linecap="round" />
<line x1="358.30" y1="614.87" x2="358.50" y2="636.30" stroke="#ffffff" stroke-width="1.1" stroke-linecap="round" />
<path d="M367.00,598.78 Q385.70,602.38 386.20,608.38" fill="none" stroke="#7c7c7c" stroke-width="1.25" stroke-linejoin="round" stroke-linecap="round" />
<path d="M386.20,607.88 L386.40,632.76" fill="none" stroke="#a8a8a8" stroke-width="1.3" stroke-linejoin="round" stroke-linecap="round" />
<line x1="387.80" y1="610.38" x2="388.00" y2="631.76" stroke="#ffffff" stroke-width="1.1" stroke-linecap="round" />
<path d="M395.50,594.45 Q414.20,598.05 414.70,604.05" fill="none" stroke="#7c7c7c" stroke-width="1.25" stroke-linejoin="round" stroke-linecap="round" />
<path d="M414.70,603.55 L414.90,628.37" fill="none" stroke="#a8a8a8" stroke-width="1.3" stroke-linejoin="round" stroke-linecap="round" />
<line x1="416.30" y1="606.05" x2="416.50" y2="627.37" stroke="#ffffff" stroke-width="1.1" stroke-linecap="round" />
<path d="M423.30,590.22 Q442.00,593.82 442.50,599.82" fill="none" stroke="#7c7c7c" stroke-width="1.25" stroke-linejoin="round" stroke-linecap="round" />
<path d="M442.50,599.32 L442.70,624.09" fill="none" stroke="#a8a8a8" stroke-width="1.3" stroke-linejoin="round" stroke-linecap="round" />
<line x1="444.10" y1="601.82" x2="444.30" y2="623.09" stroke="#ffffff" stroke-width="1.1" stroke-linecap="round" />
<path d="M450.20,586.14 Q468.90,589.74 469.40,595.74" fill="none" stroke="#7c7c7c" stroke-width="1.25" stroke-linejoin="round" stroke-linecap="round" />
<path d="M469.40,595.24 L469.60,619.94" fill="none" stroke="#a8a8a8" stroke-width="1.3" stroke-linejoin="round" stroke-linecap="round" />
<line x1="471.00" y1="597.74" x2="471.20" y2="618.94" stroke="#ffffff" stroke-width="1.1" stroke-linecap="round" />
<path d="M476.50,582.14 Q495.20,585.74 495.70,591.74" fill="none" stroke="#7c7c7c" stroke-width="1.25" stroke-linejoin="round" stroke-linecap="round" />
<path d="M495.70,591.24 L495.90,615.89" fill="none" stroke="#a8a8a8" stroke-width="1.3" stroke-linejoin="round" stroke-linecap="round" />
<line x1="497.30" y1="593.74" x2="497.50" y2="614.89" stroke="#ffffff" stroke-width="1.1" stroke-linecap="round" />
<path d="M241.10,616.00 L241.30,641.50" fill="none" stroke="#707070" stroke-width="1.1" stroke-linejoin="round" stroke-linecap="round" />
<line x1="224.00" y1="606.00" x2="224.00" y2="633.00" stroke="#cfcfcf" stroke-width="1.0" stroke-linecap="round" />
<polyline points="219.40,604.00 259.50,625.40" fill="none" stroke="#353535" stroke-width="1.1" stroke-linejoin="round" stroke-linecap="round" />
<polyline points="259.50,625.40 258.50,652.50" fill="none" stroke="#b0b0b0" stroke-width="1.0" stroke-linejoin="round" stroke-linecap="round" />
<polyline points="258.50,652.50 220.50,630.50" fill="none" stroke="#353535" stroke-width="1.1" stroke-linejoin="round" stroke-linecap="round" />
<polyline points="258.50,652.50 517.40,612.50 518.20,589.00 516.00,586.00 452.00,567.10 219.40,596.10" fill="none" stroke="#353535" stroke-width="1.1" stroke-linejoin="round" stroke-linecap="round" />
<polygon points="148.90,558.90 197.70,585.00 200.20,667.00 152.20,632.90" fill="url(#armside)" stroke="none" stroke-width="1" stroke-linejoin="round" />
<polygon points="197.70,585.00 218.00,584.10 220.50,664.60 200.20,667.00" fill="#f8f8f8" stroke="none" stroke-width="1" stroke-linejoin="round" />
<polygon points="148.90,558.90 166.80,556.80 217.20,583.30 218.00,584.10 197.70,585.00" fill="#fcfcfc" stroke="none" stroke-width="1" stroke-linejoin="round" />
<line x1="197.70" y1="585.00" x2="200.20" y2="667.00" stroke="#c4c4c4" stroke-width="1.0" stroke-linecap="round" />
<polyline points="197.70,585.00 218.00,584.10" fill="none" stroke="#6a6a6a" stroke-width="0.9" stroke-linejoin="round" stroke-linecap="round" />
<polyline points="197.70,585.00 148.90,558.90 166.80,556.80 217.20,583.30 218.00,584.10 220.50,664.60 200.20,667.00 152.20,632.90 148.90,558.90" fill="none" stroke="#353535" stroke-width="1.1" stroke-linejoin="round" stroke-linecap="round" />
<line x1="149.30" y1="561.20" x2="197.50" y2="586.60" stroke="#6e6e6e" stroke-width="0.85" stroke-linecap="round" />
<ellipse cx="207.5" cy="668.3" rx="2.75" ry="1.4" fill="#8a8a8a" stroke="#444" stroke-width="0.6"/>
<path d="M287,527 Q289,518 291,515 Q296,505 300,501 Q306,493 313,489 Q320,484.5 328,484 Q336,484 342,487 Q349,491 354,497 Q359,504 362,511 L364,515 L373,514.5 L348,548.5 L328.5,521 L338,518.5 Q338,512 336,508 Q333,503 329,501 Q325,499.5 320,499.5 Q314,500 308,503 Q303,506 298,511 Q295,516 293,522 Z" fill="url(#carrow)" stroke="url(#carrows)" stroke-width="1.1" stroke-linejoin="round" stroke-linecap="round" />
<polygon points="934.00,532.30 1005.30,547.90 1005.30,586.50 933.50,569.50" fill="#f6f6f6" stroke="none" stroke-width="1" stroke-linejoin="round" />
<polygon points="934.00,528.00 1019.60,546.10 1005.30,547.90 934.00,532.30" fill="#fcfcfc" stroke="none" stroke-width="1" stroke-linejoin="round" />
<polygon points="1005.30,547.90 1019.60,546.10 1019.40,584.50 1005.30,586.50" fill="#f8f8f8" stroke="none" stroke-width="1" stroke-linejoin="round" />
<line x1="1005.30" y1="547.90" x2="1005.30" y2="586.50" stroke="#cfcfcf" stroke-width="1.0" stroke-linecap="round" />
<polyline points="934.00,528.00 1017.60,545.50 1020.10,547.60 1019.40,584.50 1005.30,586.50" fill="none" stroke="#353535" stroke-width="1.05" stroke-linejoin="round" stroke-linecap="round" />
<polyline points="934.00,532.30 1005.30,547.90 1019.90,546.90" fill="none" stroke="#585858" stroke-width="1.0" stroke-linejoin="round" stroke-linecap="round" />
<line x1="934.00" y1="533.80" x2="1005.30" y2="548.50" stroke="#6a6a6a" stroke-width="1.0" stroke-linecap="round" />
<line x1="934.00" y1="528.00" x2="934.00" y2="569.50" stroke="#353535" stroke-width="1.0" stroke-linecap="round" />
<polygon points="720.00,570.40 934.00,546.00 988.00,561.60 755.40,590.60" fill="#fbfbfb" stroke="#353535" stroke-width="1.1" stroke-linejoin="round" />
<polygon points="755.00,622.50 793.00,644.50 784.50,643.50 784.50,652.00 757.50,655.50" fill="#f3f3f3" stroke="#353535" stroke-width="1.0" stroke-linejoin="round" />
<polygon points="784.50,642.50 793.00,647.50 793.00,683.50 785.00,678.50" fill="#f7f7f7" stroke="#353535" stroke-width="1.0" stroke-linejoin="round" />
<polygon points="793.00,647.50 1050.40,607.70 1049.70,637.00 793.00,683.50" fill="#f6f6f6" stroke="#353535" stroke-width="1.1" stroke-linejoin="round" />
<ellipse cx="805" cy="683.3" rx="2.5" ry="1.3" fill="#8a8a8a" stroke="#444" stroke-width="0.6"/>
<ellipse cx="1035.4" cy="640.2" rx="2.5" ry="1.3" fill="#8a8a8a" stroke="#444" stroke-width="0.6"/>
<polygon points="736.00,593.00 988.00,561.60 1054.20,581.50 795.50,619.90 755.40,598.50" fill="#fdfdfd" stroke="none" stroke-width="1" stroke-linejoin="round" />
<polygon points="795.50,619.90 1054.20,581.50 1053.40,607.00 794.50,647.00" fill="#fafafa" stroke="none" stroke-width="1" stroke-linejoin="round" />
<polygon points="755.40,598.50 795.50,619.90 794.50,647.00 756.50,625.00" fill="#f7f7f7" stroke="none" stroke-width="1" stroke-linejoin="round" />
<clipPath id="m4"><polygon points="686.00,599.30 988.00,561.60 1054.20,581.50 836.00,634.50 795.50,619.90 755.40,598.50"/></clipPath>
<g clip-path="url(#m4)">
<path d="M776.30,612.54 Q785.68,606.65 809.80,607.45 Q818.82,601.75 842.00,602.55 Q850.82,596.97 873.50,597.77 Q881.76,592.48 903.00,593.28 Q910.98,588.15 931.50,588.95 Q939.28,583.92 959.30,584.72 Q966.83,579.84 986.20,580.64 Q993.56,575.84 1012.50,576.64 Q1018.74,572.45 1034.80,573.25 " fill="none" stroke="#707070" stroke-width="1.15" stroke-linejoin="round" stroke-linecap="round" />
<path d="M756.30,604.24 Q765.68,598.35 789.80,599.15 Q798.82,593.45 822.00,594.25 Q830.82,588.67 853.50,589.47 Q861.76,584.18 883.00,584.98 Q890.98,579.85 911.50,580.65 Q919.28,575.62 939.30,576.42 Q946.83,571.54 966.20,572.34 Q973.56,567.54 992.50,568.34 Q998.74,564.15 1014.80,564.95 " fill="none" stroke="#707070" stroke-width="1.15" stroke-linejoin="round" stroke-linecap="round" />
<path d="M736.30,595.94 Q745.68,590.05 769.80,590.85 Q778.82,585.15 802.00,585.95 Q810.82,580.37 833.50,581.17 Q841.76,575.88 863.00,576.68 Q870.98,571.55 891.50,572.35 Q899.28,567.32 919.30,568.12 Q926.83,563.24 946.20,564.04 Q953.56,559.24 972.50,560.04 Q978.74,555.85 994.80,556.65 " fill="none" stroke="#707070" stroke-width="1.15" stroke-linejoin="round" stroke-linecap="round" />
<path d="M716.30,587.64 Q725.68,581.75 749.80,582.55 Q758.82,576.85 782.00,577.65 Q790.82,572.07 813.50,572.87 Q821.76,567.58 843.00,568.38 Q850.98,563.25 871.50,564.05 Q879.28,559.02 899.30,559.82 Q906.83,554.94 926.20,555.74 Q933.56,550.94 952.50,551.74 Q958.74,547.55 974.80,548.35 " fill="none" stroke="#707070" stroke-width="1.15" stroke-linejoin="round" stroke-linecap="round" />
<path d="M716.30,587.64 Q731.30,588.70 736.30,595.94 Q751.30,597.00 756.30,604.24 Q771.30,605.30 776.30,612.54 " fill="none" stroke="#707070" stroke-width="1.15" stroke-linejoin="round" stroke-linecap="round" />
<path d="M749.80,582.55 Q764.80,583.61 769.80,590.85 Q784.80,591.91 789.80,599.15 Q804.80,600.21 809.80,607.45 " fill="none" stroke="#707070" stroke-width="1.15" stroke-linejoin="round" stroke-linecap="round" />
<path d="M782.00,577.65 Q797.00,578.71 802.00,585.95 Q817.00,587.01 822.00,594.25 Q837.00,595.31 842.00,602.55 " fill="none" stroke="#707070" stroke-width="1.15" stroke-linejoin="round" stroke-linecap="round" />
<path d="M813.50,572.87 Q828.50,573.93 833.50,581.17 Q848.50,582.23 853.50,589.47 Q868.50,590.53 873.50,597.77 " fill="none" stroke="#707070" stroke-width="1.15" stroke-linejoin="round" stroke-linecap="round" />
<path d="M843.00,568.38 Q858.00,569.44 863.00,576.68 Q878.00,577.74 883.00,584.98 Q898.00,586.04 903.00,593.28 " fill="none" stroke="#707070" stroke-width="1.15" stroke-linejoin="round" stroke-linecap="round" />
<path d="M871.50,564.05 Q886.50,565.11 891.50,572.35 Q906.50,573.41 911.50,580.65 Q926.50,581.71 931.50,588.95 " fill="none" stroke="#707070" stroke-width="1.15" stroke-linejoin="round" stroke-linecap="round" />
<path d="M899.30,559.82 Q914.30,560.88 919.30,568.12 Q934.30,569.18 939.30,576.42 Q954.30,577.48 959.30,584.72 " fill="none" stroke="#707070" stroke-width="1.15" stroke-linejoin="round" stroke-linecap="round" />
<path d="M926.20,555.74 Q941.20,556.80 946.20,564.04 Q961.20,565.10 966.20,572.34 Q981.20,573.40 986.20,580.64 " fill="none" stroke="#707070" stroke-width="1.15" stroke-linejoin="round" stroke-linecap="round" />
<path d="M952.50,551.74 Q967.50,552.80 972.50,560.04 Q987.50,561.10 992.50,568.34 Q1007.50,569.40 1012.50,576.64 " fill="none" stroke="#707070" stroke-width="1.15" stroke-linejoin="round" stroke-linecap="round" />
<path d="M974.80,548.35 Q989.80,549.41 994.80,556.65 Q1009.80,557.71 1014.80,564.95 Q1029.80,566.01 1034.80,573.25 " fill="none" stroke="#707070" stroke-width="1.15" stroke-linejoin="round" stroke-linecap="round" />
</g>
<path d="M809.80,607.45 Q828.50,611.05 829.00,617.05" fill="none" stroke="#7c7c7c" stroke-width="1.25" stroke-linejoin="round" stroke-linecap="round" />
<path d="M829.00,616.55 L829.20,641.61" fill="none" stroke="#a8a8a8" stroke-width="1.3" stroke-linejoin="round" stroke-linecap="round" />
<line x1="830.60" y1="619.05" x2="830.80" y2="640.61" stroke="#ffffff" stroke-width="1.1" stroke-linecap="round" />
<path d="M842.00,602.55 Q860.70,606.15 861.20,612.15" fill="none" stroke="#7c7c7c" stroke-width="1.25" stroke-linejoin="round" stroke-linecap="round" />
<path d="M861.20,611.65 L861.40,636.65" fill="none" stroke="#a8a8a8" stroke-width="1.3" stroke-linejoin="round" stroke-linecap="round" />
<line x1="862.80" y1="614.15" x2="863.00" y2="635.65" stroke="#ffffff" stroke-width="1.1" stroke-linecap="round" />
<path d="M873.50,597.77 Q892.20,601.37 892.70,607.37" fill="none" stroke="#7c7c7c" stroke-width="1.25" stroke-linejoin="round" stroke-linecap="round" />
<path d="M892.70,606.87 L892.90,631.80" fill="none" stroke="#a8a8a8" stroke-width="1.3" stroke-linejoin="round" stroke-linecap="round" />
<line x1="894.30" y1="609.37" x2="894.50" y2="630.80" stroke="#ffffff" stroke-width="1.1" stroke-linecap="round" />
<path d="M903.00,593.28 Q921.70,596.88 922.20,602.88" fill="none" stroke="#7c7c7c" stroke-width="1.25" stroke-linejoin="round" stroke-linecap="round" />
<path d="M922.20,602.38 L922.40,627.26" fill="none" stroke="#a8a8a8" stroke-width="1.3" stroke-linejoin="round" stroke-linecap="round" />
<line x1="923.80" y1="604.88" x2="924.00" y2="626.26" stroke="#ffffff" stroke-width="1.1" stroke-linecap="round" />
<path d="M931.50,588.95 Q950.20,592.55 950.70,598.55" fill="none" stroke="#7c7c7c" stroke-width="1.25" stroke-linejoin="round" stroke-linecap="round" />
<path d="M950.70,598.05 L950.90,622.87" fill="none" stroke="#a8a8a8" stroke-width="1.3" stroke-linejoin="round" stroke-linecap="round" />
<line x1="952.30" y1="600.55" x2="952.50" y2="621.87" stroke="#ffffff" stroke-width="1.1" stroke-linecap="round" />
<path d="M959.30,584.72 Q978.00,588.32 978.50,594.32" fill="none" stroke="#7c7c7c" stroke-width="1.25" stroke-linejoin="round" stroke-linecap="round" />
<path d="M978.50,593.82 L978.70,618.59" fill="none" stroke="#a8a8a8" stroke-width="1.3" stroke-linejoin="round" stroke-linecap="round" />
<line x1="980.10" y1="596.32" x2="980.30" y2="617.59" stroke="#ffffff" stroke-width="1.1" stroke-linecap="round" />
<path d="M986.20,580.64 Q1004.90,584.24 1005.40,590.24" fill="none" stroke="#7c7c7c" stroke-width="1.25" stroke-linejoin="round" stroke-linecap="round" />
<path d="M1005.40,589.74 L1005.60,614.44" fill="none" stroke="#a8a8a8" stroke-width="1.3" stroke-linejoin="round" stroke-linecap="round" />
<line x1="1007.00" y1="592.24" x2="1007.20" y2="613.44" stroke="#ffffff" stroke-width="1.1" stroke-linecap="round" />
<path d="M1012.50,576.64 Q1031.20,580.24 1031.70,586.24" fill="none" stroke="#7c7c7c" stroke-width="1.25" stroke-linejoin="round" stroke-linecap="round" />
<path d="M1031.70,585.74 L1031.90,610.39" fill="none" stroke="#a8a8a8" stroke-width="1.3" stroke-linejoin="round" stroke-linecap="round" />
<line x1="1033.30" y1="588.24" x2="1033.50" y2="609.39" stroke="#ffffff" stroke-width="1.1" stroke-linecap="round" />
<path d="M777.10,610.50 L777.30,636.00" fill="none" stroke="#707070" stroke-width="1.1" stroke-linejoin="round" stroke-linecap="round" />
<line x1="760.00" y1="600.50" x2="760.00" y2="627.50" stroke="#cfcfcf" stroke-width="1.0" stroke-linecap="round" />
<polyline points="755.40,598.50 795.50,619.90" fill="none" stroke="#353535" stroke-width="1.1" stroke-linejoin="round" stroke-linecap="round" />
<polyline points="795.50,619.90 794.50,647.00" fill="none" stroke="#b0b0b0" stroke-width="1.0" stroke-linejoin="round" stroke-linecap="round" />
<polyline points="794.50,647.00 756.50,625.00" fill="none" stroke="#353535" stroke-width="1.1" stroke-linejoin="round" stroke-linecap="round" />
<polyline points="794.50,647.00 1053.40,607.00 1054.20,583.50 1052.00,580.50 988.00,561.60 755.40,590.60" fill="none" stroke="#353535" stroke-width="1.1" stroke-linejoin="round" stroke-linecap="round" />
<polygon points="684.90,553.40 733.70,579.50 736.20,661.50 688.20,627.40" fill="url(#armside)" stroke="none" stroke-width="1" stroke-linejoin="round" />
<polygon points="733.70,579.50 754.00,578.60 756.50,659.10 736.20,661.50" fill="#f8f8f8" stroke="none" stroke-width="1" stroke-linejoin="round" />
<polygon points="684.90,553.40 702.80,551.30 753.20,577.80 754.00,578.60 733.70,579.50" fill="#fcfcfc" stroke="none" stroke-width="1" stroke-linejoin="round" />
<line x1="733.70" y1="579.50" x2="736.20" y2="661.50" stroke="#c4c4c4" stroke-width="1.0" stroke-linecap="round" />
<polyline points="733.70,579.50 754.00,578.60" fill="none" stroke="#6a6a6a" stroke-width="0.9" stroke-linejoin="round" stroke-linecap="round" />
<polyline points="733.70,579.50 684.90,553.40 702.80,551.30 753.20,577.80 754.00,578.60 756.50,659.10 736.20,661.50 688.20,627.40 684.90,553.40" fill="none" stroke="#353535" stroke-width="1.1" stroke-linejoin="round" stroke-linecap="round" />
<line x1="685.30" y1="555.70" x2="733.50" y2="581.10" stroke="#6e6e6e" stroke-width="0.85" stroke-linecap="round" />
<ellipse cx="743.5" cy="662.8" rx="2.75" ry="1.4" fill="#8a8a8a" stroke="#444" stroke-width="0.6"/>
<path d="M105,21.4 L105,45.6 L101.9,45.6 L101.9,26.3 Q99.3,28.6 95.8,30.3 L95.8,27.3 Q98.6,25.7 100.6,23.9 Q102.4,22.3 102.9,21.4 Z" fill="#1e1e1e"/>
<g font-family="Liberation Sans, sans-serif" font-size="34" fill="#1e1e1e" stroke="#1e1e1e" stroke-width="0.35">
<text transform="translate(624.8,45.6) scale(1,1.03)">2</text>
<text transform="translate(91.9,445.6) scale(0.97,1.07)">3</text>
<text transform="translate(623.6,445.3) scale(0.99,1.0)">4</text>
</g>
</svg>
</div></body></html>
